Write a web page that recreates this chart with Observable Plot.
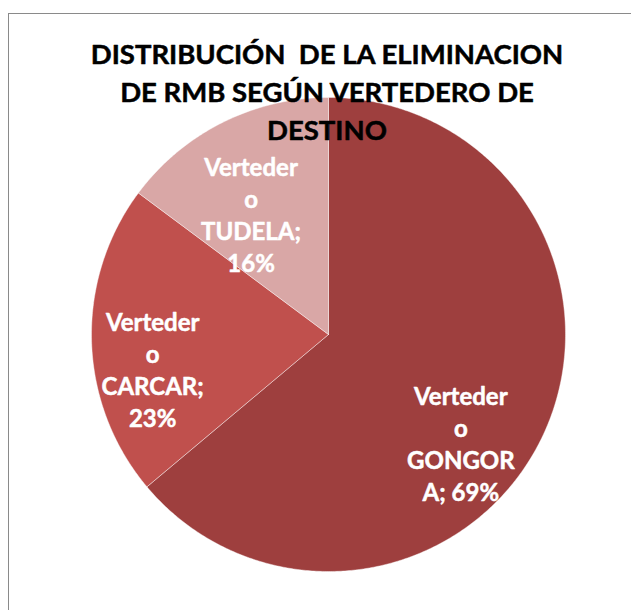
<!DOCTYPE html>
<html><head><meta charset="utf-8">
<script src="https://cdn.jsdelivr.net/npm/d3@7"></script>
<script src="https://cdn.jsdelivr.net/npm/@observablehq/plot@0.6"></script>
<style>
html,body{margin:0;padding:0;background:#fff;}
#wrap{position:relative;width:631px;height:610px;overflow:hidden;}
#border{position:absolute;left:8px;top:13px;width:700px;height:700px;border:1.5px solid #8a8a8a;box-sizing:border-box;}
#chart{position:absolute;left:0;top:0;}
#chart text{white-space:pre;}
</style></head><body>
<div id="wrap"><div id="border"></div><div id="chart"></div></div>
<script>
// ---- data ----
const categories = ["Vertedero GONGORA", "Vertedero CARCAR", "Vertedero TUDELA"];
const values = [69, 23, 16];
const labelTexts = ["Verteder\no\nGONGOR\nA; 69%", "Verteder\no\nCARCAR;\n23%", "Verteder\no\nTUDELA;\n16%"];
const colors = ["#9e3f3e", "#c0504d", "#d9a7a6"];
const title = "DISTRIBUCIÓN  DE LA ELIMINACION\nDE RMB SEGÚN VERTEDERO DE\nDESTINO";

// ---- layout ----
const W = 631, H = 610, cx = 328, cy = 334, R = 237;
const labelRadius = 0.7;
const labelNudge = [[-18, 38], [-10, 29], [-3, 28]];

const pie = d3.pie().sort(null).value(d => d.value).startAngle(0).endAngle(2 * Math.PI);
const arcs = pie(categories.map((name, i) => ({name, value: values[i]})));

const polys = [];
arcs.forEach(a => {
  const n = Math.max(2, Math.ceil((a.endAngle - a.startAngle) / (Math.PI / 360)));
  polys.push({name: a.data.name, x: 0, y: 0});
  for (let k = 0; k <= n; k++) {
    const t = a.startAngle + (a.endAngle - a.startAngle) * k / n;
    polys.push({name: a.data.name, x: Math.sin(t), y: Math.cos(t)});
  }
  polys.push({name: a.data.name, x: 0, y: 0});
});

const labelMarks = arcs.map((a, i) => {
  const m = (a.startAngle + a.endAngle) / 2;
  return Plot.text([{label: labelTexts[i], x: labelRadius * Math.sin(m), y: labelRadius * Math.cos(m)}], {
    x: "x", y: "y", text: "label", fill: "white", stroke: "white", strokeWidth: 0.5, fontWeight: "bold", fontSize: 24,
    fontFamily: "Lato, sans-serif", lineHeight: 32 / 24, lineAnchor: "middle", textAnchor: "middle",
    dx: labelNudge[i][0], dy: labelNudge[i][1]
  });
});

const chart = Plot.plot({
  width: W, height: H,
  marginLeft: 0, marginRight: 0, marginTop: 0, marginBottom: 0,
  style: {background: "transparent", overflow: "visible"},
  x: {type: "linear", domain: [-cx / R, (W - cx) / R], axis: null},
  y: {type: "linear", domain: [-(H - cy) / R, cy / R], axis: null},
  color: {domain: categories, range: colors},
  marks: [
    Plot.line(polys, {x: "x", y: "y", z: "name", fill: "name", stroke: "white", strokeWidth: 0.6, strokeOpacity: 0.7, curve: "linear"}),
    ...labelMarks,
    Plot.text([title], {frameAnchor: "top", lineAnchor: "top", dx: 11, dy: 37, fontSize: 27.5, fontWeight: "bold",
      fontFamily: "Lato, sans-serif", lineHeight: 38 / 27.5, fill: "black", stroke: "black", strokeWidth: 0.5, textAnchor: "middle"})
  ]
});
document.getElementById("chart").appendChild(chart);
</script>
</body></html>
